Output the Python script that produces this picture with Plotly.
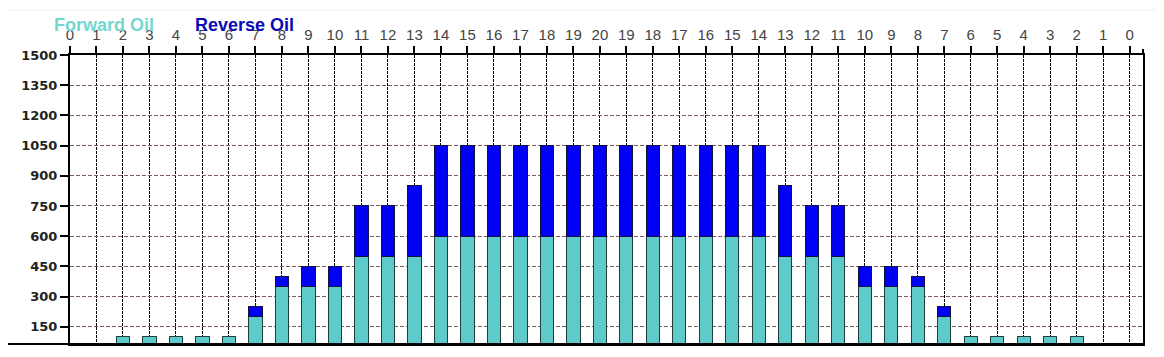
import plotly.graph_objects as go

# Tick labels along the top axis (positions 0..40)
tick_labels = [str(i) for i in range(0, 21)] + [str(i) for i in range(19, -1, -1)]
positions = list(range(len(tick_labels)))

forward_oil = [None, None, 100, 100, 100, 100, 100, 200, 350, 350, 350, 500, 500, 500,
               600, 600, 600, 600, 600, 600, 600, 600, 600, 600, 600, 600, 600,
               500, 500, 500, 350, 350, 350, 200, 100, 100, 100, 100, 100, None, None]
reverse_oil = [None, None, None, None, None, None, None, 50, 50, 100, 100, 250, 250, 350,
               450, 450, 450, 450, 450, 450, 450, 450, 450, 450, 450, 450, 450,
               350, 250, 250, 100, 100, 50, 50, None, None, None, None, None, None, None]

y_ticks = list(range(150, 1501, 150))

fig = go.Figure()
fig.add_trace(go.Bar(x=positions, y=forward_oil, name="Forward Oil", width=0.5,
                     marker=dict(color="#5fcaca", line=dict(color="#1e3f3f", width=1)),
                     showlegend=False))
fig.add_trace(go.Bar(x=positions, y=reverse_oil, name="Reverse Oil", width=0.5,
                     marker=dict(color="#0000f5", line=dict(color="#101040", width=1)),
                     showlegend=False))

OFF = 8  # page body margin
W, H = 1164, 357
L, T = 70 - OFF, 55 - OFF
R = W - (1143 - OFF)
B = H - (344 - OFF)
pw = W - L - R
ph = H - T - B


def px_x(sx):
    return (sx - OFF - L) / pw


def px_y(sy):
    return (H - B - (sy - OFF)) / ph


fig.update_layout(
    barmode="stack",
    width=W, height=H,
    margin=dict(l=L, r=R, t=T, b=B, autoexpand=False),
    paper_bgcolor="white", plot_bgcolor="white",
    font=dict(family="Liberation Sans, Arial, sans-serif"),
    xaxis=dict(
        side="top", range=[0, 40.5], automargin=False,
        tickvals=positions, ticktext=tick_labels,
        tickfont=dict(size=15, color="#444444"),
        ticks="outside", ticklen=7, tickwidth=2, tickcolor="black",
        showline=True, linecolor="black", linewidth=2, mirror=True,
        showgrid=True, gridcolor="black", gridwidth=1, griddash="3px,1px",
        zeroline=False,
    ),
    yaxis=dict(
        range=[64, 1500], automargin=False,
        tickvals=y_ticks,
        tickfont=dict(size=13, color="#222222", family="DejaVu Sans", weight="bold"),
        ticks="outside", ticklen=8, tickwidth=2, tickcolor="black",
        showline=True, linecolor="black", linewidth=2, mirror=True,
        showgrid=True, gridcolor="#7a5c5c", gridwidth=1, griddash="4px,2px",
        zeroline=False,
    ),
    annotations=[
        dict(text="Forward Oil", xref="paper", yref="paper",
             x=px_x(52), y=px_y(25), xanchor="left", yanchor="middle",
             showarrow=False, font=dict(size=18, color="#72d8d0", weight="bold")),
        dict(text="Reverse Oil", xref="paper", yref="paper",
             x=px_x(193), y=px_y(25), xanchor="left", yanchor="middle",
             showarrow=False, font=dict(size=18, color="#0a0ab4", weight="bold")),
    ],
    shapes=[
        dict(type="line", xref="paper", yref="paper", x0=px_x(0), x1=1.0, y0=0, y1=0,
             line=dict(color="black", width=2)),
        dict(type="line", xref="paper", yref="paper", x0=px_x(0), x1=px_x(1164),
             y0=px_y(10), y1=px_y(10),
             line=dict(color="#eeeeee", width=1)),
        dict(type="line", xref="paper", yref="paper", x0=1.0, x1=1.0,
             y0=1.0, y1=px_y(49),
             line=dict(color="black", width=2)),
    ],
)

fig.write_html("out.html")
